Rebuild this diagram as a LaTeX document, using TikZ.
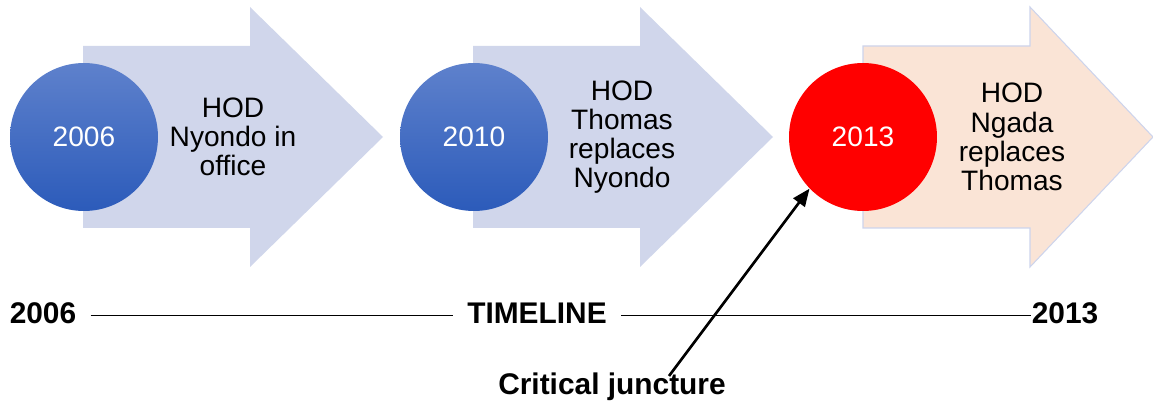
\documentclass[tikz,border=0pt]{standalone}
\usepackage{fontspec}
\setmainfont{Liberation Sans}
\usetikzlibrary{arrows.meta}

\definecolor{arrowblue}{RGB}{208,214,235}
\definecolor{arrowpeach}{RGB}{250,228,214}
\definecolor{peachedge}{RGB}{205,212,236}
\definecolor{balltop}{RGB}{94,129,204}
\definecolor{ballbot}{RGB}{44,91,186}

\tikzset{
  ball/.style={circle, minimum size=2.96cm, inner sep=0pt, text=white,
    font=\fontsize{16}{17}\selectfont},
  blueball/.style={ball, top color=balltop, bottom color=ballbot},
  hodtext/.style={align=center, font=\fontsize{16}{16.6}\selectfont},
  tltext/.style={font=\fontsize{17}{18}\selectfont\bfseries}
}

\begin{document}
\begin{tikzpicture}[x=0.02cm,y=-0.02cm]
    \useasboundingbox (0,0) rectangle (1153,405);
    % big arrows behind each year
    \foreach \dx in {0,390}
      \fill[arrowblue] (83+\dx,46)-- ++(167,0)-- ++(0,-39)-- ++(133,130)-- ++(-133,130)-- ++(0,-39)-- ++(-167,0)--cycle;
    \filldraw[fill=arrowpeach, draw=peachedge, line width=0.6pt] (863,46)-- ++(167,0)-- ++(0,-39)-- ++(123,130)-- ++(-123,130)-- ++(0,-39)-- ++(-167,0)--cycle;
    % years
    \node[blueball] (y06) at (84,137) {2006};
    \node[blueball] (y10) at (474,137) {2010};
    \node[ball, fill=red] (y13) at (863,137) {2013};
    \node[hodtext] (hod06) at (233,137) {HOD\\Nyondo in\\office};
    \node[hodtext] (hod10) at (622,137) {HOD\\Thomas\\replaces\\Nyondo};
    \node[hodtext] (hod13) at (1012,137) {HOD\\Ngada\\replaces\\Thomas};
    % timeline
    \node[tltext, inner xsep=8pt] (t06) at (43,313) {2006};
    \node[tltext, inner xsep=8pt] (tl) at (537,313) {TIMELINE};
    \node[tltext, inner xsep=0pt] (t13) at (1065,313) {2013};
    \draw[line width=0.6pt] ([yshift=-1.5pt]t06.east)--([yshift=-1.5pt]tl.west);
    \draw[line width=0.6pt] ([yshift=-1.5pt]tl.east)--([yshift=-1.5pt]t13.west);
    % critical juncture
    \node[tltext] (crit) at (612,387) {Critical juncture};
    \coordinate (cj) at (669,376);
    \draw[line width=1.5pt, -{Triangle[length=10pt,width=8pt]}] (cj)--(y13.224);
\end{tikzpicture}
\end{document}
